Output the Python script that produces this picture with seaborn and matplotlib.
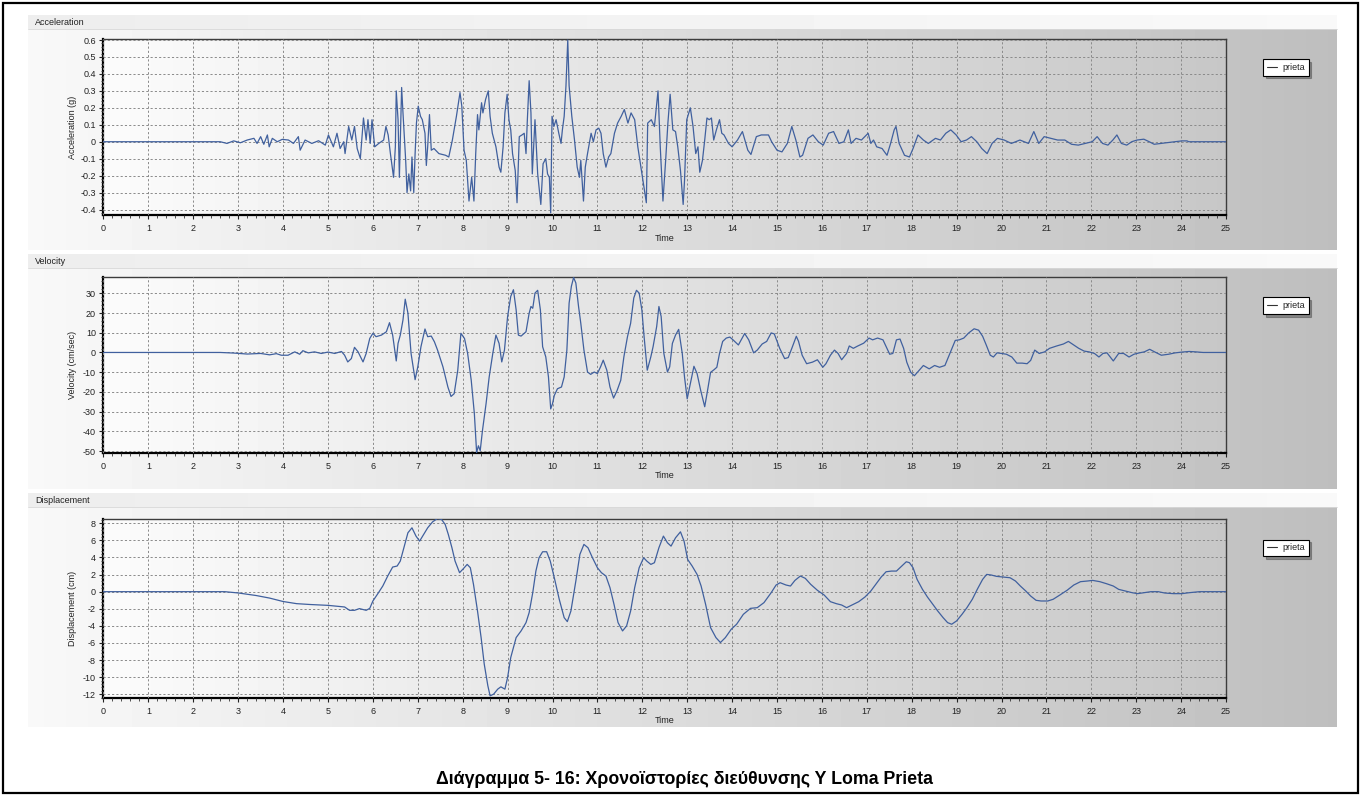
import numpy as np
import pandas as pd
import matplotlib
matplotlib.use("Agg")
import matplotlib.pyplot as plt
import seaborn as sns
from matplotlib.lines import Line2D
from matplotlib.patches import Rectangle
from matplotlib.ticker import AutoMinorLocator, FuncFormatter

# ---------------------------------------------------------------------------
# Loma Prieta record, direction Y: (time [s], value) samples
# ---------------------------------------------------------------------------
acceleration_g = [
    (0.0, 0.0), (2.6, 0.0), (2.75, -0.01), (2.9, 0.005), (3.05, -0.006), (3.2, 0.01),
    (3.35, 0.02), (3.42, -0.01), (3.5, 0.03), (3.57, -0.015), (3.65, 0.04), (3.69, -0.03),
    (3.76, 0.02), (3.87, 0.0), (3.98, 0.014),
    (4.12, 0.01), (4.23, -0.01), (4.34, 0.03), (4.38, -0.05), (4.49, 0.01), (4.64, -0.01),
    (4.79, 0.006), (4.94, -0.02),
    (5.01, 0.04), (5.12, -0.03), (5.20, 0.05), (5.27, -0.04), (5.35, 0.0), (5.38, -0.07),
    (5.46, 0.09), (5.53, 0.01), (5.59, 0.09), (5.65, -0.04), (5.72, -0.10),
    (5.79, 0.14), (5.85, 0.01), (5.89, 0.13), (5.94, -0.01), (5.98, 0.13), (6.04, -0.03),
    (6.13, -0.01), (6.24, 0.01), (6.29, 0.09), (6.34, 0.04),
    (6.39, -0.07), (6.46, -0.21), (6.50, -0.03), (6.52, 0.30), (6.56, 0.13), (6.59, -0.21),
    (6.64, 0.32), (6.67, 0.17), (6.73, -0.11), (6.76, -0.30), (6.80, -0.19), (6.84, -0.29),
    (6.87, -0.09), (6.91, -0.30), (6.94, -0.07),
    (6.97, 0.11), (7.01, 0.21), (7.06, 0.15), (7.10, 0.13), (7.16, 0.05), (7.19, -0.14),
    (7.22, -0.03), (7.26, 0.16), (7.30, -0.05), (7.36, -0.04), (7.47, -0.07), (7.62, -0.08),
    (7.69, -0.09),
    (7.77, 0.01), (7.86, 0.15), (7.94, 0.29), (7.98, 0.21), (8.03, -0.05), (8.08, -0.11),
    (8.14, -0.35), (8.20, -0.21), (8.25, -0.35), (8.29, -0.07),
    (8.33, 0.16), (8.36, 0.07), (8.42, 0.23), (8.45, 0.17), (8.51, 0.25), (8.57, 0.30),
    (8.61, 0.15), (8.66, 0.05), (8.74, -0.03), (8.81, -0.15), (8.85, -0.18), (8.90, -0.03),
    (8.94, 0.17), (8.99, 0.28), (9.03, 0.13),
    (9.07, 0.07), (9.11, -0.07), (9.17, -0.17), (9.21, -0.36), (9.26, 0.03), (9.32, 0.04),
    (9.37, 0.05), (9.41, -0.07), (9.44, 0.13), (9.48, 0.36), (9.52, 0.17), (9.55, -0.19),
    (9.61, 0.13), (9.67, -0.19), (9.74, -0.37), (9.79, -0.13), (9.85, -0.10), (9.89, -0.19),
    (9.93, -0.21), (9.96, -0.42), (9.99, 0.15), (10.03, 0.09), (10.08, 0.13),
    (10.14, 0.05), (10.19, -0.01), (10.22, 0.07), (10.26, 0.15), (10.30, 0.33), (10.34, 0.60),
    (10.37, 0.33), (10.43, 0.15), (10.49, 0.01), (10.55, -0.15), (10.60, -0.21), (10.63, -0.11),
    (10.69, -0.35), (10.73, -0.15),
    (10.78, -0.07), (10.86, 0.05), (10.91, 0.0), (10.97, 0.07), (11.03, 0.08), (11.08, 0.05),
    (11.13, -0.07), (11.19, -0.15), (11.25, -0.09), (11.30, -0.07),
    (11.38, 0.05), (11.45, 0.11), (11.53, 0.15), (11.60, 0.19), (11.68, 0.11), (11.75, 0.17),
    (11.83, 0.13), (11.90, -0.03), (11.97, -0.15), (12.03, -0.25), (12.09, -0.36),
    (12.12, 0.11), (12.20, 0.13), (12.27, 0.09), (12.35, 0.30), (12.40, -0.03), (12.46, -0.35),
    (12.52, -0.11), (12.57, 0.11), (12.62, 0.28), (12.68, 0.07), (12.74, 0.06), (12.79, -0.03),
    (12.85, -0.17), (12.91, -0.37), (12.94, -0.23), (12.99, 0.13),
    (13.07, 0.20), (13.13, 0.09), (13.19, -0.07), (13.24, -0.03), (13.28, -0.18), (13.34, -0.11),
    (13.39, 0.01), (13.44, 0.14), (13.49, 0.13), (13.54, 0.14), (13.59, 0.01), (13.65, 0.07),
    (13.72, 0.13), (13.77, 0.05), (13.82, 0.04), (13.92, -0.01),
    (14.0, -0.03), (14.12, 0.01), (14.23, 0.06), (14.35, -0.05), (14.42, -0.075), (14.54, 0.03),
    (14.65, 0.04), (14.81, 0.04), (14.88, 0.0), (15.0, -0.05), (15.11, -0.06), (15.23, -0.01),
    (15.33, 0.09), (15.42, 0.01), (15.51, -0.09), (15.57, -0.08), (15.69, 0.02), (15.80, 0.04),
    (15.92, 0.0),
    (16.03, -0.02), (16.15, 0.05), (16.26, 0.06), (16.38, -0.01), (16.49, 0.0), (16.59, 0.07),
    (16.65, -0.01), (16.76, 0.02), (16.88, 0.01), (16.99, 0.04), (17.03, 0.05), (17.09, -0.01),
    (17.15, 0.01), (17.22, -0.03), (17.34, -0.04), (17.45, -0.08), (17.53, -0.01), (17.61, 0.07),
    (17.65, 0.09), (17.72, -0.01), (17.84, -0.08), (17.95, -0.09),
    (18.03, -0.04), (18.14, 0.04), (18.26, 0.01), (18.37, -0.01), (18.53, 0.02), (18.64, 0.01),
    (18.76, 0.05), (18.87, 0.07), (18.99, 0.04), (19.10, 0.0), (19.22, 0.01), (19.33, 0.03),
    (19.45, 0.0), (19.56, -0.04), (19.68, -0.07), (19.79, -0.01), (19.91, 0.02),
    (20.06, 0.01), (20.22, -0.01), (20.41, 0.01), (20.60, -0.01), (20.72, 0.06), (20.83, -0.01),
    (20.95, 0.03), (21.10, 0.02), (21.25, 0.01), (21.41, 0.01), (21.56, -0.015), (21.71, -0.02),
    (21.87, -0.01),
    (22.02, 0.0), (22.13, 0.03), (22.25, -0.01), (22.37, -0.02), (22.48, 0.01), (22.57, 0.04),
    (22.67, -0.01), (22.79, -0.02), (22.90, 0.0), (23.02, 0.01), (23.17, 0.015), (23.29, 0.0),
    (23.40, -0.015), (23.55, -0.01), (23.71, -0.005), (23.86, 0.0), (24.02, 0.005),
    (24.13, 0.005), (24.17, 0.0), (25.0, 0.0),
]

velocity_cms = [
    (0.0, 0.0), (2.6, 0.0), (2.9, -0.3), (3.2, -0.8), (3.5, -0.5), (3.7, -1.2), (3.85, -0.6),
    (3.96, -1.4), (4.11, -1.4), (4.26, 0.3), (4.37, -0.9), (4.44, 0.9), (4.56, -0.2),
    (4.70, 0.3), (4.85, -0.5), (5.0, 0.2), (5.15, -0.5), (5.30, 0.5), (5.37, -1.4),
    (5.44, -4.8), (5.52, -3.1), (5.59, 2.6), (5.67, 0.3), (5.78, -4.8), (5.85, -0.5),
    (5.93, 7.1), (6.0, 9.7), (6.07, 8.0), (6.19, 8.8), (6.30, 10.5), (6.37, 15.1),
    (6.44, 8.8), (6.52, -4.3), (6.56, 4.6), (6.61, 8.8), (6.67, 16.5), (6.72, 27.0),
    (6.78, 19.9), (6.85, -0.5), (6.94, -13.8), (7.0, -7.3), (7.07, 2.9), (7.16, 11.9),
    (7.22, 8.0), (7.30, 8.3), (7.37, 5.4), (7.44, 1.2), (7.56, -7.3), (7.67, -17.5),
    (7.74, -22.3), (7.81, -20.9), (7.89, -9.0), (7.96, 9.7), (8.04, 7.1), (8.11, -0.5),
    (8.19, -14.1), (8.26, -31.1), (8.31, -50.7), (8.35, -47.3), (8.39, -49.8), (8.44, -39.6),
    (8.52, -26.0), (8.59, -12.4), (8.67, -0.5), (8.74, 8.8), (8.81, 4.6), (8.87, -4.8),
    (8.93, 1.2), (9.0, 18.2), (9.07, 28.4), (9.13, 31.8), (9.19, 21.6), (9.24, 8.8),
    (9.30, 8.3), (9.41, 10.5), (9.48, 19.9), (9.52, 23.3), (9.56, 22.4), (9.61, 30.1),
    (9.67, 31.5), (9.73, 21.6), (9.78, 2.9), (9.85, -2.2), (9.91, -12.4), (9.96, -28.6),
    (10.0, -26.0), (10.04, -21.8), (10.11, -18.4), (10.20, -17.5), (10.26, -12.4), (10.32, 1.2),
    (10.37, 25.0), (10.42, 33.5), (10.47, 38.0), (10.52, 35.2), (10.58, 23.3), (10.63, 14.8),
    (10.70, 1.2), (10.78, -9.9), (10.85, -11.1), (10.93, -9.9), (11.0, -10.7), (11.07, -7.3),
    (11.13, -3.9), (11.21, -9.0), (11.28, -17.5), (11.36, -23.1), (11.44, -19.2), (11.52, -14.1),
    (11.59, -2.2), (11.67, 8.0), (11.74, 14.8), (11.81, 27.6), (11.87, 31.5), (11.93, 30.1),
    (11.99, 21.6), (12.04, 8.0), (12.11, -9.0), (12.19, -2.2), (12.24, 2.9), (12.32, 13.1),
    (12.37, 23.3), (12.42, 18.2), (12.48, -0.5), (12.56, -9.9), (12.61, -7.3), (12.67, 4.6),
    (12.74, 8.8), (12.81, 11.7), (12.89, -0.5), (12.94, -12.4), (13.0, -23.5), (13.07, -15.8),
    (13.15, -7.0), (13.22, -10.7), (13.30, -19.2),
    (13.39, -27.5), (13.45, -19.7), (13.52, -10.1), (13.60, -8.7), (13.66, -7.5), (13.72, -0.5),
    (13.79, 5.6), (13.87, 7.3), (13.95, 7.8), (14.02, 6.4), (14.14, 3.8), (14.28, 9.6),
    (14.37, 6.4), (14.48, -0.2), (14.56, 1.2), (14.67, 4.3), (14.77, 5.6), (14.87, 9.9),
    (14.94, 9.4), (15.06, 2.1), (15.17, -3.1), (15.25, -2.6), (15.33, 2.1), (15.43, 8.2),
    (15.48, 5.6), (15.56, -1.4), (15.66, -5.7), (15.79, -4.9), (15.90, -3.7), (16.02, -7.5),
    (16.09, -5.7), (16.19, -1.4), (16.28, 1.2), (16.36, -0.5), (16.44, -3.7), (16.55, -0.5),
    (16.61, 3.3), (16.70, 2.1), (16.80, 3.3), (16.93, 4.7), (17.05, 7.3), (17.13, 6.4),
    (17.24, 7.3), (17.36, 6.4), (17.43, 3.0), (17.51, -0.9), (17.58, -0.5), (17.66, 6.4),
    (17.74, 6.8), (17.82, 2.1), (17.89, -4.9), (17.98, -10.1), (18.06, -11.8), (18.16, -9.2),
    (18.26, -6.6), (18.39, -8.3), (18.51, -6.6), (18.62, -7.5), (18.74, -6.6), (18.85, -0.5),
    (18.97, 6.1), (19.06, 6.4), (19.16, 7.3), (19.27, 9.9), (19.39, 12.0), (19.49, 11.3),
    (19.58, 8.2), (19.66, 3.8), (19.75, -1.4), (19.82, -2.3), (19.90, -0.2), (20.0, -0.5),
    (20.11, -0.9), (20.23, -2.3), (20.34, -5.4), (20.46, -5.4), (20.57, -5.7), (20.65, -4.0),
    (20.74, 1.2), (20.84, -0.5), (20.96, 0.3), (21.07, 2.1), (21.23, 3.3), (21.38, 4.3),
    (21.49, 5.6), (21.61, 3.8), (21.72, 2.1), (21.84, 0.7), (21.95, 0.3), (22.07, -0.5),
    (22.17, -2.3), (22.26, -0.5), (22.35, -0.2), (22.49, -4.3), (22.61, -0.5), (22.72, -0.5),
    (22.84, -2.3), (22.95, -0.9), (23.07, -0.2), (23.18, 0.3), (23.30, 1.6), (23.41, 0.3),
    (23.56, -1.4), (23.72, -0.9), (23.87, -0.2), (24.02, 0.2), (24.18, 0.5), (24.33, 0.3),
    (24.49, 0.0), (25.0, 0.0),
]

displacement_cm = [
    (0.0, 0.0), (2.7, 0.0), (3.0, -0.15), (3.4, -0.45), (3.7, -0.75), (4.0, -1.15),
    (4.3, -1.4), (4.6, -1.5), (5.0, -1.6), (5.37, -1.79), (5.48, -2.18), (5.59, -2.18),
    (5.70, -1.98), (5.85, -2.18), (5.93, -1.95), (6.0, -1.09), (6.11, -0.23), (6.22, 0.66),
    (6.33, 1.83), (6.44, 2.88), (6.54, 3.0), (6.61, 3.58), (6.69, 5.14), (6.78, 6.89),
    (6.87, 7.47), (6.96, 6.50), (7.04, 5.91), (7.13, 6.69), (7.22, 7.47), (7.33, 8.17),
    (7.44, 8.56), (7.53, 8.44), (7.61, 7.86), (7.68, 6.69), (7.76, 5.14), (7.83, 3.58),
    (7.93, 2.22), (8.02, 2.72), (8.10, 3.19), (8.17, 2.80), (8.24, 0.86), (8.33, -2.26),
    (8.41, -5.37), (8.48, -8.48), (8.56, -11.0), (8.61, -12.18), (8.69, -11.98), (8.78, -11.40),
    (8.85, -11.13), (8.94, -11.40), (9.0, -10.04), (9.07, -7.70), (9.19, -5.37), (9.30, -4.59),
    (9.41, -3.62), (9.48, -2.45), (9.56, -0.12), (9.63, 2.41), (9.70, 3.97), (9.78, 4.67),
    (9.87, 4.67), (9.95, 3.58), (10.04, 1.63), (10.15, -0.89), (10.26, -3.04), (10.33, -3.50),
    (10.41, -2.26), (10.52, 1.25), (10.61, 4.36), (10.70, 5.53), (10.79, 5.14), (10.89, 3.97),
    (11.0, 2.80), (11.09, 2.22), (11.19, 1.83), (11.28, 0.47), (11.37, -1.48), (11.46, -3.62),
    (11.56, -4.59), (11.65, -4.01), (11.74, -2.26), (11.83, 0.47), (11.93, 2.80), (12.03, 3.97),
    (12.10, 3.58), (12.19, 3.19), (12.27, 3.39), (12.37, 5.14), (12.47, 6.50), (12.56, 5.72),
    (12.64, 5.33), (12.74, 6.30), (12.85, 7.00), (12.93, 5.91), (13.01, 3.77), (13.11, 3.0),
    (13.22, 2.02), (13.31, 0.66), (13.41, -1.48), (13.52, -4.20), (13.64, -5.37), (13.74, -5.95),
    (13.85, -5.37), (13.98, -4.40), (14.10, -3.81), (14.25, -2.65), (14.41, -1.95), (14.56, -1.87),
    (14.71, -1.28), (14.87, -0.12), (14.98, 0.78), (15.07, 1.05), (15.20, 0.78), (15.30, 0.66),
    (15.40, 1.32), (15.52, 1.83), (15.63, 1.56), (15.75, 0.86), (15.90, 0.16), (16.05, -0.39),
    (16.19, -1.17), (16.32, -1.40), (16.44, -1.56), (16.55, -1.87), (16.67, -1.56), (16.82, -1.17),
    (16.96, -0.62), (17.09, 0.08), (17.20, 0.86), (17.32, 1.71), (17.43, 2.33), (17.55, 2.41),
    (17.66, 2.41), (17.78, 3.0), (17.88, 3.50), (17.95, 3.39), (18.03, 2.80), (18.12, 1.44),
    (18.24, 0.27), (18.35, -0.62), (18.47, -1.48), (18.58, -2.26), (18.70, -3.04), (18.80, -3.62),
    (18.89, -3.81), (19.0, -3.42), (19.12, -2.65), (19.23, -1.87), (19.35, -0.89), (19.46, 0.27),
    (19.58, 1.44), (19.67, 2.02), (19.77, 1.95), (19.89, 1.79), (20.04, 1.71), (20.19, 1.63),
    (20.31, 1.25), (20.42, 0.66), (20.54, 0.08), (20.65, -0.51), (20.77, -1.01), (20.88, -1.09),
    (21.03, -1.09), (21.15, -0.89), (21.30, -0.39), (21.46, 0.16), (21.61, 0.78), (21.76, 1.17),
    (21.92, 1.25), (22.03, 1.32), (22.19, 1.17), (22.34, 0.93), (22.49, 0.66), (22.61, 0.27),
    (22.76, 0.08), (22.91, -0.12), (23.03, -0.23), (23.18, -0.12), (23.33, 0.0), (23.49, 0.0),
    (23.64, -0.16), (23.83, -0.23), (24.02, -0.23), (24.18, -0.12), (24.41, 0.0), (25.0, 0.0),
]

time_ticks = list(range(0, 26))
series_name = "prieta"
caption = "Διάγραμμα 5- 16: Χρονοϊστορίες διεύθυνσης Υ Loma Prieta"

# panel title, axis label, y-ticks, y-limits, samples
panels = [
    ("Acceleration", "Acceleration (g)",
     [-0.4, -0.3, -0.2, -0.1, 0.0, 0.1, 0.2, 0.3, 0.4, 0.5, 0.6], (-0.434, 0.609), acceleration_g),
    ("Velocity", "Velocity (cm/sec)",
     [-50, -40, -30, -20, -10, 0, 10, 20, 30], (-50.8, 38.4), velocity_cms),
    ("Displacement", "Displacement (cm)",
     [-12, -10, -8, -6, -4, -2, 0, 2, 4, 6, 8], (-12.4, 8.5), displacement_cm),
]

# ---------------------------------------------------------------------------
sns.set_style("ticks")
plt.rcParams["font.family"] = ["Liberation Sans", "DejaVu Sans"]

W, H = 1365, 795
fig = plt.figure(figsize=(W / 100, H / 100), dpi=100)
fig.patch.set_facecolor("white")

bg = fig.add_axes([0, 0, 1, 1], zorder=-10)
bg.axis("off")


def hgrad(ax, x0, x1, y0, y1, c0, c1, z=0):
    g = np.linspace(c0, c1, 256)[None, :]
    ax.imshow(g, cmap="gray", vmin=0, vmax=1, extent=(x0, x1, y1, y0),
              aspect="auto", interpolation="bilinear", zorder=z)


# panel frames in pixel units: header top, header bottom, body bottom, plot top, plot bottom
frames = [(15, 29, 250, 38.5, 215.3),
          (254, 268, 489, 276.7, 452.7),
          (493, 507, 727, 519.0, 697.7)]
PX0, PX1 = 28, 1337
AX0, AX1 = 103.5, 1226.0

line_color = "#40609e"

for (title, ylab, yt, ylim, samples), (h0, h1, b1, p0, p1) in zip(panels, frames):
    hgrad(bg, PX0, PX1, h0, h1, 0.93, 0.975)
    hgrad(bg, PX0, PX1, h1, b1, 0.975, 0.745)
    bg.plot([PX0, PX1], [h1, h1], color="#d8d8d8", lw=0.6)
    bg.text(35, (h0 + h1) / 2 + 0.5, title, fontsize=6.5, color="#222222",
            ha="left", va="center")

    ax = fig.add_axes([AX0 / W, 1 - p1 / H, (AX1 - AX0) / W, (p1 - p0) / H])
    ax.set_xlim(0, 25)
    ax.set_ylim(*ylim)
    ax.imshow(np.linspace(0.985, 0.78, 256)[None, :], cmap="gray", vmin=0, vmax=1,
              extent=(0, 25, ylim[0], ylim[1]), aspect="auto",
              interpolation="bilinear", zorder=0)

    df = pd.DataFrame(samples, columns=["Time", ylab])
    sns.lineplot(data=df, x="Time", y=ylab, ax=ax, color=line_color, lw=0.9,
                 estimator=None, sort=False, zorder=3)

    ax.set_xlim(0, 25)
    ax.set_ylim(*ylim)
    ax.set_xticks(time_ticks)
    ax.set_yticks(yt)
    ax.xaxis.set_minor_locator(AutoMinorLocator(5))
    ax.yaxis.set_minor_locator(AutoMinorLocator(5))
    if title == "Acceleration":
        ax.yaxis.set_major_formatter(
            FuncFormatter(lambda v, p: "0" if abs(v) < 1e-9 else f"{v:.1f}"))
    else:
        ax.yaxis.set_major_formatter(FuncFormatter(lambda v, p: f"{v:.0f}"))

    ax.grid(True, which="major", color="#8a8a8a", lw=0.7, ls=(0, (2.2, 2.2)))
    ax.set_axisbelow(False)
    for gl in ax.get_xgridlines() + ax.get_ygridlines():
        gl.set_zorder(1)

    ax.tick_params(which="major", direction="out", length=3, width=0.8,
                   labelsize=6.5, labelcolor="#222222", color="#222222", pad=2.5)
    ax.tick_params(which="minor", direction="out", length=1.8, width=0.6,
                   color="#333333")
    ax.tick_params(axis="x", which="major", pad=3.5)

    for s in ("left", "bottom"):
        ax.spines[s].set_color("black")
        ax.spines[s].set_linewidth(1.6)
    for s in ("top", "right"):
        ax.spines[s].set_color("#3c3c3c")
        ax.spines[s].set_linewidth(1.0)
        ax.spines[s].set_visible(True)

    ax.set_xlabel("Time", fontsize=6.5, color="#222222")
    ax.xaxis.set_label_coords(0.5, -18.5 / (p1 - p0))
    ax.xaxis.label.set_va("top")
    ax.set_ylabel(ylab, fontsize=6.5, color="#222222")
    ax.yaxis.set_label_coords(-(AX0 - 77) / (AX1 - AX0), 0.5)

    handle = Line2D([], [], color="#333333", lw=0.8)
    leg = ax.legend([handle], [series_name], loc="upper left",
                    bbox_to_anchor=(1263 / W, 1 - (p0 + 20.5) / H),
                    bbox_transform=fig.transFigure, frameon=True, fancybox=False,
                    shadow=True, fontsize=6.5, handlelength=1.1, handletextpad=0.6,
                    borderpad=0.42, borderaxespad=0)
    leg.get_frame().set_edgecolor("black")
    leg.get_frame().set_linewidth(0.8)
    leg.get_frame().set_facecolor("white")

# outer page border and caption
bg.add_patch(Rectangle((3, 3), W - 10, H - 5, fill=False, edgecolor="black", lw=1.6))
bg.text(684, 779, caption, fontsize=12.8, fontweight="bold", ha="center", va="center",
        color="black")
bg.set_xlim(0, W)
bg.set_ylim(H, 0)

fig.savefig("out.png", dpi=100, facecolor="white")
